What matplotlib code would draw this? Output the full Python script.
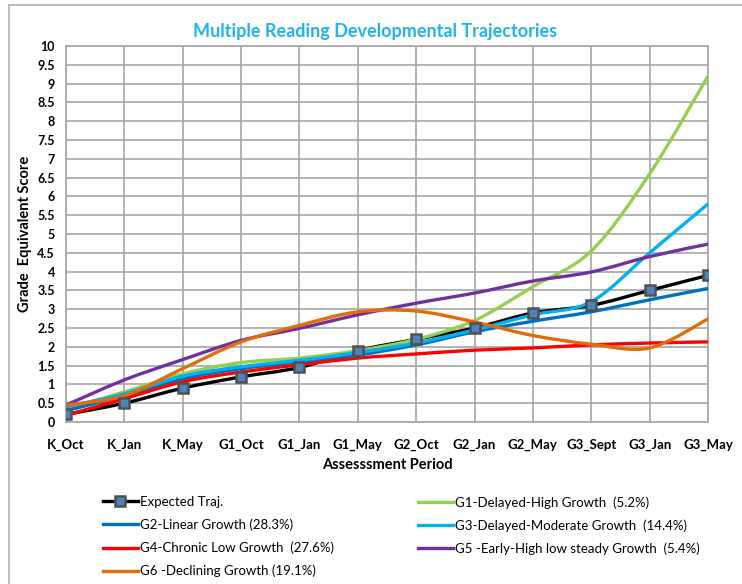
import numpy as np
import matplotlib
matplotlib.use("Agg")
import matplotlib.pyplot as plt
from matplotlib.path import Path
from matplotlib.patches import PathPatch, Rectangle
from matplotlib.lines import Line2D

plt.rcParams['font.family'] = ['Lato', 'DejaVu Sans']

periods = ["K_Oct", "K_Jan", "K_May", "G1_Oct", "G1_Jan", "G1_May",
           "G2_Oct", "G2_Jan", "G2_May", "G3_Sept", "G3_Jan", "G3_May"]

expected = [0.2, 0.5, 0.9, 1.2, 1.45, 1.9, 2.2, 2.5, 2.9, 3.1, 3.5, 3.9]
g1_delayed_high = [0.35, 0.8, 1.28, 1.58, 1.7, 1.9, 2.2, 2.7, 3.6, 4.55, 6.6, 9.2]
g2_linear = [0.3, 0.7, 1.15, 1.42, 1.6, 1.78, 2.05, 2.4, 2.68, 2.93, 3.25, 3.55]
g3_delayed_mod = [0.4, 0.75, 1.22, 1.47, 1.64, 1.85, 2.1, 2.45, 2.85, 3.2, 4.5, 5.8]
g4_chronic_low = [0.18, 0.62, 1.07, 1.33, 1.52, 1.7, 1.81, 1.91, 1.97, 2.05, 2.1, 2.13]
g5_early_high = [0.45, 1.12, 1.66, 2.17, 2.49, 2.85, 3.16, 3.43, 3.75, 3.99, 4.4, 4.73]
g6_declining = [0.45, 0.7, 1.42, 2.13, 2.57, 2.93, 2.95, 2.66, 2.3, 2.07, 1.97, 2.74]

series = [
    ("Expected Traj.", expected, "black"),
    ("G1-Delayed-High Growth  (5.2%)", g1_delayed_high, "#92D050"),
    ("G2-Linear Growth (28.3%)", g2_linear, "#0070C0"),
    ("G3-Delayed-Moderate Growth  (14.4%)", g3_delayed_mod, "#00B0F0"),
    ("G4-Chronic Low Growth  (27.6%)", g4_chronic_low, "#FF0000"),
    ("G5 -Early-High low steady Growth  (5.4%)", g5_early_high, "#7030A0"),
    ("G6 -Declining Growth (19.1%)", g6_declining, "#E36C09"),
]


def smooth_path(x, y):
    # Excel-style smoothed line: cubic Bezier through each point (Catmull-Rom)
    pts = np.column_stack([x, y]).astype(float)
    ext = np.vstack([pts[0], pts, pts[-1]])
    verts = [pts[0]]
    codes = [Path.MOVETO]
    for i in range(len(pts) - 1):
        p0, p1, p2, p3 = ext[i], ext[i + 1], ext[i + 2], ext[i + 3]
        verts += [p1 + (p2 - p0) / 6, p2 - (p3 - p1) / 6, p2]
        codes += [Path.CURVE4] * 3
    return Path(verts, codes)


fig = plt.figure(figsize=(7.42, 5.84), dpi=100)
fig.patches.append(Rectangle((9 / 742, -0.1), 1.2, 1 - 5 / 584 + 0.1,
                             transform=fig.transFigure, fill=False,
                             edgecolor="#BFBFBF", linewidth=1.5))
ax = fig.add_axes([66 / 742, 1 - 422 / 584, 642 / 742, 376 / 584])

x = np.arange(len(periods))
handles = []
for name, vals, color in series:
    ax.add_patch(PathPatch(smooth_path(x, vals), fill=False, edgecolor=color,
                           linewidth=2.4, capstyle='round', zorder=3))
    if name.startswith("Expected"):
        ax.plot(x, vals, linestyle='none', marker='s', markersize=7.5,
                markerfacecolor="#4F81BD", markeredgecolor="#505050",
                markeredgewidth=1.8, zorder=4)
        handles.append(Line2D([], [], color=color, linewidth=2.4, marker='s',
                              markersize=7.5, markerfacecolor="#4F81BD",
                              markeredgecolor="#505050", markeredgewidth=1.8,
                              label=name))
    else:
        handles.append(Line2D([], [], color=color, linewidth=2.4, label=name))

ax.set_xlim(0, len(periods) - 1)
ax.set_ylim(0, 10)
ax.set_xticks(x)
ax.set_xticklabels(periods, fontsize=9.5, fontweight='bold')
yt = np.arange(0, 10.01, 0.5)
ax.set_yticks(yt)
ax.set_yticklabels([f"{v:g}" for v in yt], fontsize=9, fontweight='bold')
ax.tick_params(length=0)
ax.tick_params(axis='x', pad=12)
ax.tick_params(axis='y', pad=8)
ax.grid(True, color="#A6A6A6", linewidth=1.2)
ax.set_axisbelow(True)
for s in ax.spines.values():
    s.set_color("#A6A6A6")
    s.set_linewidth(1.2)

ax.set_xlabel("Assesssment Period", fontsize=10.5, fontweight='bold', labelpad=5)
ax.set_ylabel("Grade  Equivalent Score", fontsize=10.5, fontweight='bold', labelpad=4)
fig.text(375 / 742, 1 - 31 / 584, "Multiple Reading Developmental Trajectories",
         ha='center', va='center', fontsize=13, fontweight='bold', color="#1FB3F0")

left = [handles[0], handles[2], handles[4], handles[6]]
right = [handles[1], handles[3], handles[5]]
legend_kw = dict(loc='upper left', frameon=False, fontsize=9.5, handlelength=2.65,
                 handletextpad=0.15, labelspacing=0.8, borderpad=0, borderaxespad=0)
fig.legend(handles=left, bbox_to_anchor=(103 / 742, 1 - 496 / 584), **legend_kw)
fig.legend(handles=right, bbox_to_anchor=(418 / 742, 1 - 496 / 584), **legend_kw)

fig.savefig("out.png", dpi=100)
